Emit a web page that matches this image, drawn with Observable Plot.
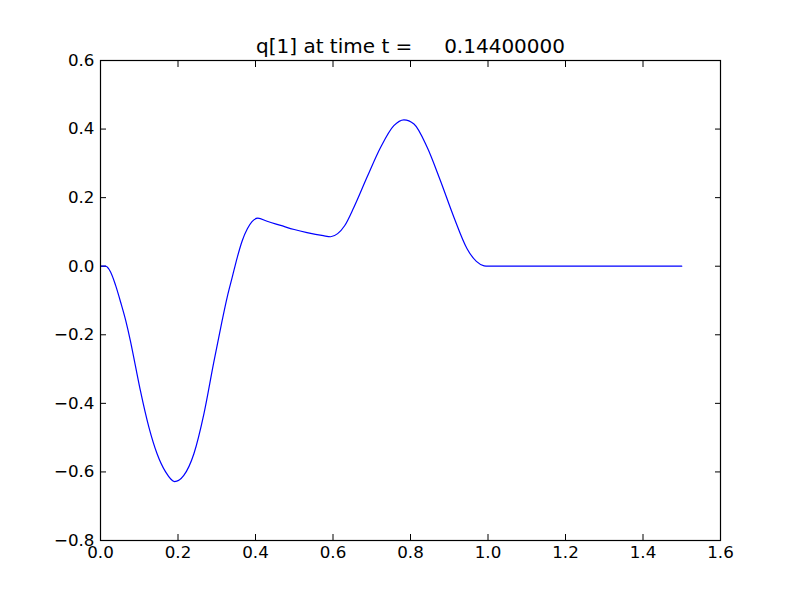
<!DOCTYPE html>
<html>
<head>
<meta charset="utf-8">
<script src="https://cdn.jsdelivr.net/npm/d3@7"></script>
<script src="https://cdn.jsdelivr.net/npm/@observablehq/plot@0.6"></script>
<style>
  html, body { margin: 0; padding: 0; background: #fff; }
  #chart { width: 800px; height: 600px; }
</style>
</head>
<body>
<div id="chart"></div>
<script>
const titleText = "q[1] at time t =\u00a0\u00a0\u00a0\u00a0\u00a00.14400000";
const xValues = [0, 0.013, 0.026, 0.039, 0.052, 0.065, 0.077, 0.090, 0.103, 0.125, 0.146, 0.168, 0.191, 0.215, 0.241, 0.267, 0.292, 0.314, 0.327, 0.340, 0.353, 0.366, 0.379, 0.391, 0.406, 0.430, 0.465, 0.500, 0.533, 0.575, 0.594, 0.612, 0.630, 0.654, 0.688, 0.723, 0.757, 0.783, 0.809, 0.843, 0.877, 0.912, 0.946, 0.970, 0.990, 1.0, 1.5];
const yValues = [0, 0, -0.017, -0.056, -0.105, -0.158, -0.217, -0.290, -0.363, -0.470, -0.547, -0.600, -0.628, -0.610, -0.547, -0.430, -0.282, -0.158, -0.090, -0.032, 0.026, 0.075, 0.109, 0.130, 0.140, 0.131, 0.119, 0.107, 0.098, 0.089, 0.086, 0.095, 0.118, 0.172, 0.260, 0.347, 0.410, 0.427, 0.415, 0.347, 0.250, 0.143, 0.051, 0.014, 0.001, 0, 0];
const xTicks = [0, 0.2, 0.4, 0.6, 0.8, 1.0, 1.2, 1.4, 1.6];
const yTicks = [-0.8, -0.6, -0.4, -0.2, 0, 0.2, 0.4, 0.6];

const data = xValues.map((x, i) => ({x, y: yValues[i]}));
const fmt = d3.format(".1f");
const blank = () => "";

const chart = Plot.plot({
  width: 800,
  height: 600,
  marginLeft: 100,
  marginRight: 80,
  marginTop: 60,
  marginBottom: 60,
  style: {fontFamily: "DejaVu Sans", fontSize: "16.7px", color: "black", background: "white"},
  x: {domain: [0, 1.6]},
  y: {domain: [-0.8, 0.6]},
  marks: [
    Plot.axisX(xTicks, {anchor: "bottom", tickSize: 0, tickPadding: 6, tickFormat: fmt, label: null, fontSize: 16.7}),
    Plot.axisX(xTicks, {anchor: "bottom", tickSize: -6, tickFormat: blank, label: null}),
    Plot.axisX(xTicks, {anchor: "top", tickSize: -6, tickFormat: blank, label: null}),
    Plot.axisY(yTicks, {anchor: "left", tickSize: 0, tickPadding: 6, tickFormat: fmt, label: null, fontSize: 16.7}),
    Plot.axisY(yTicks, {anchor: "left", tickSize: -6, tickFormat: blank, label: null}),
    Plot.axisY(yTicks, {anchor: "right", tickSize: -6, tickFormat: blank, label: null}),
    Plot.line(data, {x: "x", y: "y", stroke: "#0000ff", strokeWidth: 1.2, curve: "monotone-x"}),
    Plot.frame({stroke: "black", strokeWidth: 1.2}),
    Plot.text([titleText], {frameAnchor: "top", lineAnchor: "bottom", dy: -8, fontSize: 20, fill: "black"})
  ]
});
document.getElementById("chart").appendChild(chart);
</script>
</body>
</html>
